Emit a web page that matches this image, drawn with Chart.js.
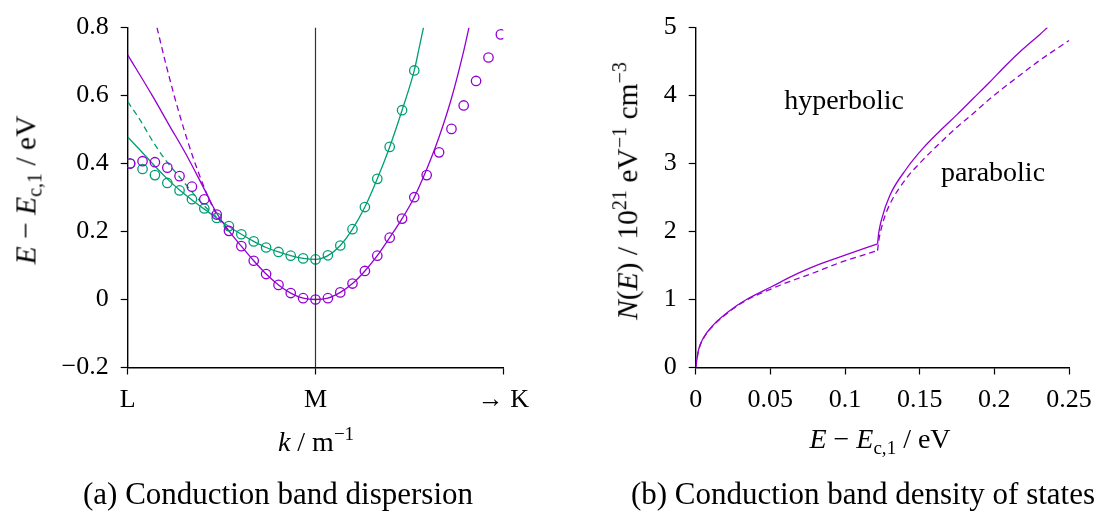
<!DOCTYPE html>
<html>
<head>
<meta charset="utf-8">
<script src="https://cdn.jsdelivr.net/npm/chart.js@4.4.0/dist/chart.umd.min.js"></script>
<style>
  html, body { margin:0; padding:0; background:#fff; }
  #wrap { position:relative; width:1118px; height:518px; overflow:hidden; font-family:'Liberation Serif', serif; color:#000; }
  canvas { position:absolute; top:0; }
  .t { position:absolute; white-space:nowrap; font-size:28px; line-height:1; transform:translate(-50%,-50%); }
  .rot { transform:translate(-50%,-50%) rotate(-90deg); font-size:29.5px; }
  .t sub { font-size:0.68em; vertical-align:-0.3em; }
  .t sup { font-size:0.68em; vertical-align:0.55em; }
  .cap { font-size:31px; }
</style>
</head>
<body>
<div id="wrap">
  <canvas id="ca" width="560" height="518" style="left:0px"></canvas>
  <canvas id="cb" width="558" height="518" style="left:560px"></canvas>
  <div class="t rot" style="left:28px; top:190px;"><i>E</i> − <i>E</i><sub>c,1</sub> / eV</div>
  <div class="t" style="left:316px; top:440px;"><i>k</i> / m<sup>−1</sup></div>
  <div class="t rot" style="left:626px; top:191px;"><i>N</i>(<i>E</i>) / 10<sup>21</sup> eV<sup>−1</sup> cm<sup>−3</sup></div>
  <div class="t" style="left:880px; top:441px;"><i>E</i> − <i>E</i><sub>c,1</sub> / eV</div>
  <div class="t" style="left:844px; top:100px;">hyperbolic</div>
  <div class="t" style="left:993px; top:172px;">parabolic</div>
  <div class="t cap" style="left:278px; top:493px;">(a) Conduction band dispersion</div>
  <div class="t cap" style="left:863px; top:493px;">(b) Conduction band density of states</div>
</div>
<script>
// ---------- Panel (a): dispersion ----------
const kTickValues = [-1, 0, 1];
const kTickLabels = ['L', 'M', '→ K'];
const eTickValues = [-0.2, 0, 0.2, 0.4, 0.6, 0.8];
const eTickLabels = ['−0.2', '0', '0.2', '0.4', '0.6', '0.8'];

const kCircles = [-0.987,-0.921,-0.855,-0.789,-0.724,-0.658,-0.592,-0.526,-0.461,-0.395,-0.329,-0.263,-0.197,-0.132,-0.066,0,
                  0.066,0.132,0.197,0.263,0.329,0.395,0.461,0.526,0.592,0.658,0.724,0.789,0.855,0.921,0.987];
const band1Circles = [0.400,0.407,0.404,0.388,0.363,0.332,0.295,0.250,0.202,0.157,0.114,0.075,0.043,0.019,0.004,0.000,
                      0.004,0.021,0.047,0.084,0.129,0.182,0.238,0.301,0.366,0.433,0.502,0.571,0.643,0.712,0.780];
const band2Circles = [0.400,0.384,0.366,0.343,0.321,0.295,0.268,0.240,0.216,0.192,0.171,0.153,0.140,0.129,0.121,0.118,
                      0.130,0.159,0.207,0.272,0.355,0.449,0.557,0.674];

const band1HypK = [-1,-0.865,-0.777,-0.688,-0.599,-0.528,-0.461,-0.395,-0.329,-0.263,-0.197,-0.132,-0.066,0,
                   0.066,0.132,0.197,0.263,0.329,0.395,0.461,0.526,0.592,0.658,0.724,0.789,0.817];
const band1HypE = [0.720,0.596,0.511,0.426,0.332,0.256,0.202,0.157,0.114,0.075,0.043,0.019,0.004,0.000,
                   0.004,0.021,0.047,0.084,0.129,0.182,0.238,0.301,0.383,0.478,0.592,0.731,0.800];
const band1ParK = [-0.844,-0.80,-0.75,-0.70,-0.65,-0.60,-0.55,-0.50,-0.46];
const band1ParE = [0.800,0.700,0.595,0.500,0.415,0.340,0.275,0.225,0.200];

const band2HypK = [-1,-0.921,-0.855,-0.789,-0.724,-0.658,-0.592,-0.526,-0.461,-0.395,-0.329,-0.263,-0.197,-0.132,-0.066,0,
                   0.066,0.132,0.197,0.263,0.329,0.395,0.461,0.526,0.55,0.575];
const band2HypE = [0.478,0.432,0.392,0.355,0.322,0.293,0.266,0.240,0.215,0.192,0.171,0.153,0.140,0.129,0.121,0.118,
                   0.129,0.159,0.207,0.272,0.355,0.449,0.557,0.674,0.735,0.800];
const band2ParK = [-1,-0.936,-0.865,-0.794,-0.723,-0.652,-0.582,-0.526];
const band2ParE = [0.582,0.530,0.464,0.407,0.360,0.313,0.270,0.242];

const mLineK = [0, 0];
const mLineE = [-0.2, 0.8];

// ---------- Panel (b): density of states ----------
const dosTickValues = [0, 0.05, 0.1, 0.15, 0.2, 0.25];
const dosTickLabels = ['0', '0.05', '0.1', '0.15', '0.2', '0.25'];
const nTickValues = [0, 1, 2, 3, 4, 5];
const nTickLabels = ['0', '1', '2', '3', '4', '5'];

// hyperbolic (solid): below and above the second-band onset
const dosHypLowE  = [0,0.0018,0.005,0.012,0.023,0.034,0.05,0.068,0.083,0.101,0.1218];
const dosHypLowN  = [0,0.25,0.43,0.63,0.84,1.00,1.18,1.38,1.52,1.66,1.82];
const dosHypHighE = [0.1218,0.1225,0.1245,0.13,0.141,0.152,0.1635,0.175,0.186,0.197,0.208,0.219,0.2305,0.2355];
const dosHypHighN = [1.82,1.97,2.18,2.53,2.92,3.22,3.48,3.72,3.96,4.20,4.45,4.68,4.90,5.00];
// parabolic (dashed)
const dosParLowE  = [0,0.0018,0.005,0.012,0.023,0.034,0.05,0.0564,0.0787,0.0988,0.11,0.1218];
const dosParLowN  = [0,0.24,0.42,0.62,0.83,0.99,1.15,1.21,1.39,1.56,1.64,1.72];
const dosParHighE = [0.1218,0.1225,0.1256,0.13,0.141,0.152,0.1635,0.1747,0.186,0.199,0.219,0.2305,0.25];
const dosParHighN = [1.72,1.85,2.15,2.40,2.78,3.05,3.30,3.53,3.74,3.99,4.33,4.52,4.81];

// ---------- styling ----------
const PURPLE = '#9400d3';
const GREEN = '#009e73';
const pts = (xs, ys) => xs.map((x, i) => ({x: x, y: ys[i]}));

Chart.defaults.font.family = "'Liberation Serif', serif";
Chart.defaults.font.size = 26;
Chart.defaults.color = '#000';

function lineDs(xs, ys, color, dashed, width) {
  return { type:'scatter', data: pts(xs, ys), showLine:true, borderColor:color, backgroundColor:color,
           borderWidth: width || 1.3, pointRadius:0, borderDash: dashed ? [6,4] : [],
           cubicInterpolationMode:'monotone', fill:false };
}
function circleDs(xs, ys, color) {
  return { type:'scatter', data: pts(xs, ys), showLine:false, borderColor:color,
           backgroundColor:'rgba(0,0,0,0)', pointRadius:4.7, pointHoverRadius:4.7, pointBorderWidth:1.3 };
}
function axis(min, max, tv, tl, fitFn, pad) {
  return {
    type:'linear', min:min, max:max,
    afterBuildTicks: s => { s.ticks = tv.map(v => ({value:v})); },
    afterFit: fitFn,
    ticks: { callback: (v) => { const i = tv.findIndex(t => Math.abs(t - v) < 1e-9); return i >= 0 ? tl[i] : ''; },
             padding: pad, autoSkip:false, maxRotation:0, minRotation:0, color:'#000' },
    grid: { drawOnChartArea:false, drawTicks:true, tickLength:7, tickColor:'#000', tickWidth:1.2 },
    border: { display:true, color:'#000', width:1.4 }
  };
}

new Chart(document.getElementById('ca'), {
  type:'scatter',
  data: { datasets: [
    lineDs(mLineK, mLineE, '#333', false, 1.2),
    circleDs(kCircles, band1Circles, PURPLE),
    circleDs(kCircles.slice(0, band2Circles.length), band2Circles, GREEN),
    lineDs(band1HypK, band1HypE, PURPLE, false),
    lineDs(band1ParK, band1ParE, PURPLE, true),
    lineDs(band2HypK, band2HypE, GREEN, false),
    lineDs(band2ParK, band2ParE, GREEN, true)
  ]},
  options: {
    responsive:false, animation:false, events:[],
    layout: { padding: { left:0, top:14.5, right:56.7, bottom:0 } },
    plugins: { legend:{display:false}, tooltip:{enabled:false} },
    scales: {
      x: axis(-1, 1, kTickValues, kTickLabels, s => { s.height = 150.5; }, 10),
      y: axis(-0.2, 0.8, eTickValues, eTickLabels, s => { s.width = 127.7; }, 12)
    }
  }
});

new Chart(document.getElementById('cb'), {
  type:'scatter',
  data: { datasets: [
    lineDs(dosHypLowE, dosHypLowN, PURPLE, false),
    lineDs(dosHypHighE, dosHypHighN, PURPLE, false),
    lineDs(dosParLowE, dosParLowN, PURPLE, true),
    lineDs(dosParHighE, dosParHighN, PURPLE, true)
  ]},
  options: {
    responsive:false, animation:false, events:[],
    layout: { padding: { left:0, top:14.3, right:49, bottom:0 } },
    plugins: { legend:{display:false}, tooltip:{enabled:false} },
    scales: {
      x: axis(0, 0.25, dosTickValues, dosTickLabels, s => { s.height = 150.5; }, 10),
      y: axis(0, 5, nTickValues, nTickLabels, s => { s.width = 135.7; }, 12)
    }
  }
});
</script>
</body>
</html>
